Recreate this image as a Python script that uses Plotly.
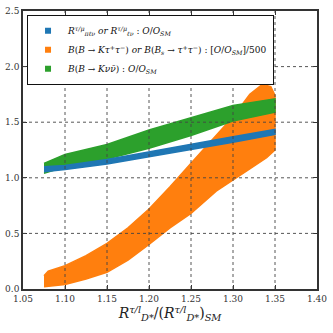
import plotly.graph_objects as go

# Band edges (x, lower, upper)
blue_x = [1.075, 1.10, 1.15, 1.20, 1.25, 1.30, 1.35]
blue_lo = [1.055, 1.075, 1.125, 1.19, 1.255, 1.32, 1.39]
blue_hi = [1.10, 1.11, 1.165, 1.235, 1.30, 1.37, 1.435]

green_x = [1.075, 1.10, 1.15, 1.20, 1.25, 1.30, 1.35]
green_lo = [1.04, 1.10, 1.17, 1.265, 1.38, 1.51, 1.59]
green_hi = [1.13, 1.21, 1.30, 1.43, 1.54, 1.65, 1.71]

orange_x_hi = [1.075, 1.08, 1.10, 1.125, 1.15, 1.175, 1.20, 1.225, 1.25, 1.28, 1.30, 1.32, 1.335, 1.345, 1.35]
orange_hi = [0.12, 0.16, 0.21, 0.30, 0.41, 0.55, 0.72, 0.92, 1.13, 1.38, 1.55, 1.75, 1.84, 1.82, 1.74]
orange_x_lo = [1.075, 1.08, 1.10, 1.125, 1.15, 1.175, 1.20, 1.225, 1.25, 1.28, 1.30, 1.32, 1.34, 1.35]
orange_lo = [0.02, 0.02, 0.04, 0.09, 0.15, 0.26, 0.40, 0.55, 0.68, 0.88, 0.98, 1.08, 1.18, 1.25]

x_ticks = [1.05, 1.10, 1.15, 1.20, 1.25, 1.30, 1.35, 1.40]
y_ticks = [0.0, 0.5, 1.0, 1.5, 2.0, 2.5]

labels = [
    "<i>R</i><sup><i>τ/μ</i></sup><sub><i>πℓν</i></sub> <i>or</i> <i>R</i><sup><i>τ/μ</i></sup><sub><i>ℓν</i></sub> : <i>O</i>/<i>O</i><sub><i>SM</i></sub>",
    "<i>B</i>(<i>B</i> → <i>Kτ</i><sup>+</sup><i>τ</i><sup>−</sup>) <i>or</i> <i>B</i>(<i>B<sub>s</sub></i> → <i>τ</i><sup>+</sup><i>τ</i><sup>−</sup>) : [<i>O</i>/<i>O</i><sub><i>SM</i></sub>]/500",
    "<i>B</i>(<i>B</i> → <i>Kνν̄</i>) : <i>O</i>/<i>O</i><sub><i>SM</i></sub>",
]
colors = ["#1f77b4", "#ff7f0e", "#2ca02c"]


def band(xs_hi, ys_hi, xs_lo, ys_lo):
    return list(xs_hi) + list(reversed(xs_lo)), list(ys_hi) + list(reversed(ys_lo))


fig = go.Figure()
ox, oy = band(orange_x_hi, orange_hi, orange_x_lo, orange_lo)
gx, gy = band(green_x, green_hi, green_x, green_lo)
bx, by = band(blue_x, blue_hi, blue_x, blue_lo)
for xs, ys, c in [(ox, oy, colors[1]), (gx, gy, colors[2]), (bx, by, colors[0])]:
    fig.add_trace(go.Scatter(x=xs, y=ys, fill="toself", fillcolor=c, mode="lines",
                             line=dict(color=c, width=1.5), showlegend=False, hoverinfo="skip"))

for lab, c in zip(labels, colors):
    fig.add_trace(go.Scatter(x=[None], y=[None], mode="markers", name=lab,
                             marker=dict(symbol="square", size=6, color=c)))

# dotted grid drawn above the data, as in the reference
for v in x_ticks[1:-1]:
    fig.add_shape(type="line", xref="x", yref="paper", x0=v, x1=v, y0=0, y1=1,
                  line=dict(color="#444444", width=0.9, dash="dot"), layer="above")
for v in y_ticks[1:-1]:
    fig.add_shape(type="line", xref="paper", yref="y", x0=0, x1=1, y0=v, y1=v,
                  line=dict(color="#444444", width=0.9, dash="dot"), layer="above")

axis_common = dict(
    showline=True, linecolor="#333333", linewidth=1.5, mirror="allticks",
    ticks="inside", ticklen=4, tickcolor="#333333",
    showgrid=False, zeroline=False, layer="above traces", automargin=False,
    tickfont=dict(family="DejaVu Serif", size=9, color="#333333"),
)
fig.update_xaxes(range=[1.05, 1.40], tickvals=x_ticks,
                 ticktext=[f"{v:.2f}" for v in x_ticks],
                 title=dict(text="<i>R</i><sup><i>τ/l</i></sup><sub><i>D*</i></sub>/(<i>R</i><sup><i>τ/l</i></sup><sub><i>D*</i></sub>)<sub><i>SM</i></sub>",
                            font=dict(family="DejaVu Serif", size=14, color="#222222"), standoff=6),
                 **axis_common)
fig.update_yaxes(range=[0, 2.5], tickvals=y_ticks,
                 ticktext=[f"{v:.1f}" for v in y_ticks], **axis_common)

fig.update_layout(
    width=333, height=333,
    margin=dict(l=23, r=16, t=11, b=44),
    plot_bgcolor="white", paper_bgcolor="white",
    showlegend=True,
    legend=dict(x=0.013, y=0.985, xanchor="left", yanchor="top",
                bgcolor="white", bordercolor="#111111", borderwidth=1.2,
                font=dict(family="DejaVu Serif", size=9, color="#111111"),
                tracegroupgap=0, itemwidth=30),
)

fig.write_html("out.html", config={"displayModeBar": False},
               post_script="document.body.style.margin='0';document.body.style.overflow='hidden';")
